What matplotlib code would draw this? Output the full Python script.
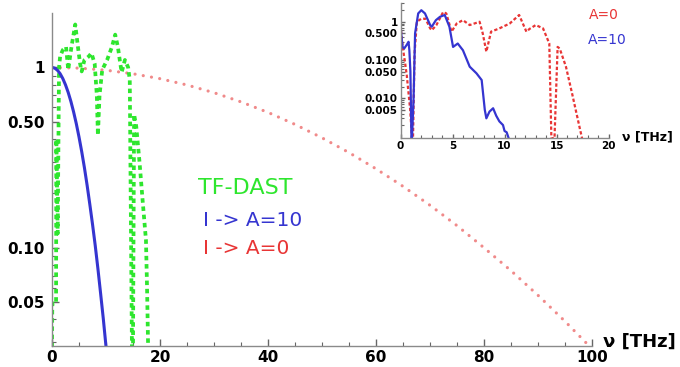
import matplotlib
matplotlib.use("Agg")
import matplotlib.pyplot as plt
from matplotlib.ticker import FixedLocator, MultipleLocator, NullFormatter

# main panel: TF-DAST spectrum and the two field spectra
red_nu = [0, 5, 10, 15, 20, 25, 30, 35, 40, 45, 50, 55, 60, 65, 70, 75, 80, 85, 90, 95, 100]
red_val = [1.0, 0.991, 0.965, 0.922, 0.866, 0.799, 0.724, 0.644, 0.563, 0.483, 0.407,
           0.337, 0.274, 0.219, 0.172, 0.1326, 0.100, 0.0746, 0.0545, 0.0391, 0.0275]

blue_nu = [0, 0.5, 1, 1.5, 2, 2.5, 3, 3.5, 4, 4.5, 5, 5.5, 6, 6.5, 7, 7.5, 8, 8.5, 9, 9.5, 10]
blue_val = [1.0, 0.991, 0.965, 0.923, 0.867, 0.800, 0.726, 0.647, 0.566, 0.487, 0.411,
            0.341, 0.278, 0.222, 0.174, 0.135, 0.103, 0.0765, 0.0557, 0.0403, 0.0283]

green_nu = [0.0, 0.05, 0.75, 0.8, 1.05, 1.3, 1.5, 2.0, 2.6, 3.0, 3.6, 4.3, 4.8, 5.2, 5.5,
            6.0, 6.8, 7.3, 7.9, 8.3, 8.5, 8.8, 9.3, 10.2, 11.1, 11.7, 12.2, 12.6, 12.9,
            13.5, 14.1, 14.4, 14.8, 15.0, 15.2, 15.6, 16.2, 16.8, 17.4, 17.6, 17.8]
green_val = [0.028, 0.049, 0.049, 0.40, 0.12, 1.0, 1.15, 1.25, 1.3, 0.97, 1.3, 1.73, 1.3,
             1.05, 0.95, 1.1, 1.15, 1.2, 1.05, 0.7, 0.42, 0.7, 0.97, 1.1, 1.3, 1.52, 1.3,
             1.07, 0.94, 1.1, 1.0, 0.85, 0.028, 0.028, 0.55, 0.47, 0.3, 0.18, 0.11, 0.06, 0.028]

# inset: A=10 (blue) and A=0 (red)
in_blue_nu = [0.0, 0.1, 0.2, 0.35, 0.6, 0.77, 0.85, 0.95, 1.05, 1.1, 1.25, 1.4, 1.7, 2.0,
              2.35, 2.85, 3.0, 3.4, 3.8, 4.25, 4.7, 5.05, 5.5, 6.0, 6.65, 7.3, 7.8, 8.1,
              8.25, 8.55, 8.9, 9.2, 9.5, 9.85, 10.0, 10.2, 10.4]
in_blue_val = [0.8, 0.4, 0.22, 0.2, 0.25, 0.3, 0.18, 0.05, 0.0009, 0.0009, 0.009, 0.5, 1.65,
               2.0, 1.65, 0.82, 0.74, 1.1, 1.35, 1.5, 0.74, 0.22, 0.27, 0.18, 0.067, 0.045,
               0.030, 0.005, 0.003, 0.0045, 0.0055, 0.0035, 0.0025, 0.002, 0.0014, 0.0013,
               0.0009]

in_red_nu = [0.0, 0.15, 0.3, 0.45, 0.6, 0.93, 1.1, 1.2, 1.35, 1.57, 2.0, 2.4, 2.85, 3.0,
             3.45, 4.1, 4.4, 4.9, 5.4, 6.0, 6.65, 7.6, 7.9, 8.25, 8.7, 9.5, 10.5, 11.4,
             12.1, 12.4, 13.0, 13.7, 14.3, 14.5, 14.8, 15.1, 15.3, 15.9, 16.5, 17.2, 17.45]
in_red_val = [0.82, 0.3, 0.15, 0.08, 0.04, 0.005, 0.0009, 0.0009, 0.15, 1.0, 1.2, 1.2, 0.67,
              0.6, 0.82, 1.8, 1.65, 0.55, 0.9, 1.1, 0.82, 1.0, 0.5, 0.165, 0.55, 0.67, 0.9,
              1.5, 0.55, 0.65, 0.82, 0.67, 0.27, 0.0009, 0.0009, 0.22, 0.2, 0.067, 0.013,
              0.0018, 0.0009]

main_yticks = [0.05, 0.1, 0.5, 1]
main_ylabels = ["0.05", "0.10", "0.50", "1"]
inset_yticks = [0.005, 0.01, 0.05, 0.1, 0.5, 1]
inset_ylabels = ["0.005", "0.010", "0.050", "0.100", "0.500", "1"]

GREEN = "#2ee62e"
BLUE = "#3535d0"
RED = "#e83535"
AXC = "#8a8a8a"

fig = plt.figure(figsize=(6.8, 3.67), dpi=100)


def style_axes(ax, size, major_len, minor_len):
    for s in ("top", "right"):
        ax.spines[s].set_visible(False)
    for s in ("left", "bottom"):
        ax.spines[s].set_color(AXC)
        ax.spines[s].set_linewidth(1.0)
    ax.tick_params(which="both", direction="in", color="#666666", labelsize=size)
    ax.tick_params(which="major", length=major_len, width=1.0)
    ax.tick_params(which="minor", length=minor_len, width=0.8)
    for lab in ax.get_xticklabels() + ax.get_yticklabels():
        lab.set_fontweight("bold")


ax = fig.add_axes([0.0765, 0.0572, 0.794, 0.907])
ax.set_yscale("log")
ax.plot(red_nu, red_val, color="#f08a8a", linestyle=(0, (0.01, 2.6)), lw=2.3,
        dash_capstyle="round")
ax.plot(green_nu, green_val, color=GREEN, linestyle=(0, (1.2, 1.0)), lw=2.7)
ax.plot(blue_nu, blue_val, color=BLUE, lw=2.2)
ax.set_xlim(0, 100)
ax.set_ylim(0.0285, 2.0)
ax.xaxis.set_major_locator(MultipleLocator(20))
ax.xaxis.set_minor_locator(MultipleLocator(5))
ax.yaxis.set_major_locator(FixedLocator(main_yticks))
ax.set_yticklabels(main_ylabels)
ax.yaxis.set_minor_locator(FixedLocator([0.03, 0.04, 0.06, 0.07, 0.08, 0.09, 0.2, 0.3, 0.4,
                                         0.6, 0.7, 0.8, 0.9]))
ax.yaxis.set_minor_formatter(NullFormatter())
ax.tick_params(axis="x", pad=3)
ax.tick_params(axis="y", pad=5)
style_axes(ax, 11, 5, 3)

fig.text(0.887, 0.068, "\u03bd [THz]", fontsize=13, fontweight="bold", va="center", ha="left")
fig.text(0.291, 0.488, "TF-DAST", color=GREEN, fontsize=16, va="center", ha="left")
fig.text(0.299, 0.398, "I -> A=10", color=BLUE, fontsize=14.5, va="center", ha="left")
fig.text(0.299, 0.324, "I -> A=0", color=RED, fontsize=14.5, va="center", ha="left")

ins = fig.add_axes([0.589, 0.624, 0.306, 0.368])
ins.set_yscale("log")
ins.plot(in_red_nu, in_red_val, color=RED, linestyle=(0, (1.5, 1.0)), lw=1.6)
ins.plot(in_blue_nu, in_blue_val, color=BLUE, lw=1.6)
ins.set_xlim(0, 20)
ins.set_ylim(0.00092, 3.1)
ins.xaxis.set_major_locator(MultipleLocator(5))
ins.xaxis.set_minor_locator(MultipleLocator(1))
ins.yaxis.set_major_locator(FixedLocator(inset_yticks))
ins.set_yticklabels(inset_ylabels)
ins.yaxis.set_minor_locator(FixedLocator([0.002, 0.003, 0.004, 0.006, 0.007, 0.008, 0.009,
                                          0.02, 0.03, 0.04, 0.06, 0.07, 0.08, 0.09,
                                          0.2, 0.3, 0.4, 0.6, 0.7, 0.8, 0.9, 2, 3]))
ins.yaxis.set_minor_formatter(NullFormatter())
ins.tick_params(axis="both", pad=2)
ins.patch.set_alpha(0)
style_axes(ins, 7.5, 3, 2)

fig.text(0.915, 0.626, "\u03bd [THz]", fontsize=9, fontweight="bold", va="center", ha="left")
fig.text(0.866, 0.959, "A=0", color=RED, fontsize=10, va="center", ha="left")
fig.text(0.864, 0.891, "A=10", color=BLUE, fontsize=10, va="center", ha="left")

fig.savefig("out.png", dpi=100)
